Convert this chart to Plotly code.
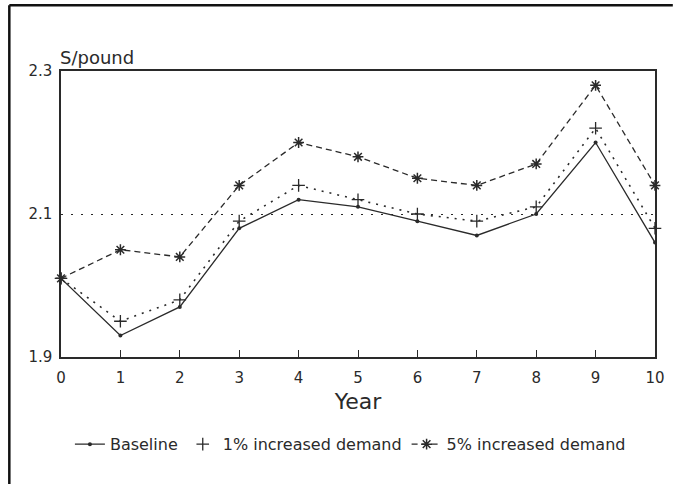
import plotly.graph_objects as go

years = [0, 1, 2, 3, 4, 5, 6, 7, 8, 9, 10]
baseline = [2.01, 1.93, 1.97, 2.08, 2.12, 2.11, 2.09, 2.07, 2.10, 2.20, 2.06]
demand_1pct = [2.01, 1.95, 1.98, 2.09, 2.14, 2.12, 2.10, 2.09, 2.11, 2.22, 2.08]
demand_5pct = [2.01, 2.05, 2.04, 2.14, 2.20, 2.18, 2.15, 2.14, 2.17, 2.28, 2.14]

y_ticks = [1.9, 2.1, 2.3]
y_tick_labels = ["1.9", "2.1", "2.3"]
x_ticks = years
x_tick_labels = [str(v) for v in years]

ink = "#2a2a2a"
font_family = "DejaVu Sans"

cross_marker = dict(symbol="cross-thin-open", size=9, color=ink,
                    line=dict(color=ink, width=1.3))

fig = go.Figure()
fig.add_trace(go.Scatter(
    x=years, y=baseline, name="Baseline", mode="lines+markers", cliponaxis=False,
    line=dict(color=ink, width=1.3, dash="solid"),
    marker=dict(symbol="circle", size=4, color=ink),
))
fig.add_trace(go.Scatter(
    x=years, y=demand_1pct, name="1% increased demand", mode="lines+markers", cliponaxis=False,
    line=dict(color=ink, width=1.6, dash="2px,6px"),
    marker=cross_marker, legendgroup="d1", showlegend=False,
))
# legend entry for the 1% series shows only its "+" marker, as in the original
fig.add_trace(go.Scatter(
    x=[None], y=[None], name="1% increased demand", mode="markers",
    marker=cross_marker, legendgroup="d1", showlegend=True,
))
fig.add_trace(go.Scatter(
    x=years, y=demand_5pct, name="5% increased demand", mode="lines+markers", cliponaxis=False,
    line=dict(color=ink, width=1.3, dash="6px,4px"),
    marker=dict(symbol="asterisk-open", size=9, color=ink,
                line=dict(color=ink, width=1.5)),
))

fig.update_layout(
    width=677, height=484,
    margin=dict(l=61, r=17, t=71, b=127),
    paper_bgcolor="white", plot_bgcolor="white",
    font=dict(family=font_family, color=ink, size=15),
    showlegend=True,
    legend=dict(
        orientation="h", x=0.015, xanchor="left", y=-0.305, yanchor="middle",
        font=dict(family=font_family, size=16, color=ink),
        itemwidth=30, tracegroupgap=0, bgcolor="rgba(0,0,0,0)",
    ),
    xaxis=dict(
        range=[0, 10], tickmode="array", tickvals=x_ticks, ticktext=x_tick_labels,
        ticks="inside", ticklen=7, tickwidth=1.2, tickcolor=ink,
        showline=True, linecolor=ink, linewidth=1.5, mirror=True,
        showgrid=False, zeroline=False, ticklabelstandoff=6,
        tickfont=dict(family=font_family, size=15, color=ink),
        title=dict(text="Year", font=dict(family=font_family, size=22, color=ink), standoff=8),
    ),
    yaxis=dict(
        range=[1.9, 2.3], tickmode="array", tickvals=y_ticks, ticktext=y_tick_labels,
        ticks="", showline=True, linecolor=ink, linewidth=1.5, mirror=True,
        showgrid=True, gridcolor=ink, gridwidth=1.3, griddash="2px,8px",
        zeroline=False, ticklabelstandoff=4,
        tickfont=dict(family=font_family, size=15, color=ink),
    ),
    annotations=[dict(
        text="S/pound", xref="paper", yref="paper", x=0, y=1.0,
        xanchor="left", yanchor="bottom", yshift=1, xshift=-3, showarrow=False,
        font=dict(family=font_family, size=18, color=ink),
    )],
    shapes=[
        dict(type="line", xref="paper", yref="paper", x0=-0.087, x1=-0.087, y0=1.23, y1=-0.5,
             line=dict(color="#111", width=2.5)),
        dict(type="line", xref="paper", yref="paper", x0=-0.087, x1=1.03, y0=1.23, y1=1.23,
             line=dict(color="#111", width=2.5)),
    ],
)

fig.write_html("out.html", config={"displayModeBar": False},
               post_script="document.body.style.margin='0';")
